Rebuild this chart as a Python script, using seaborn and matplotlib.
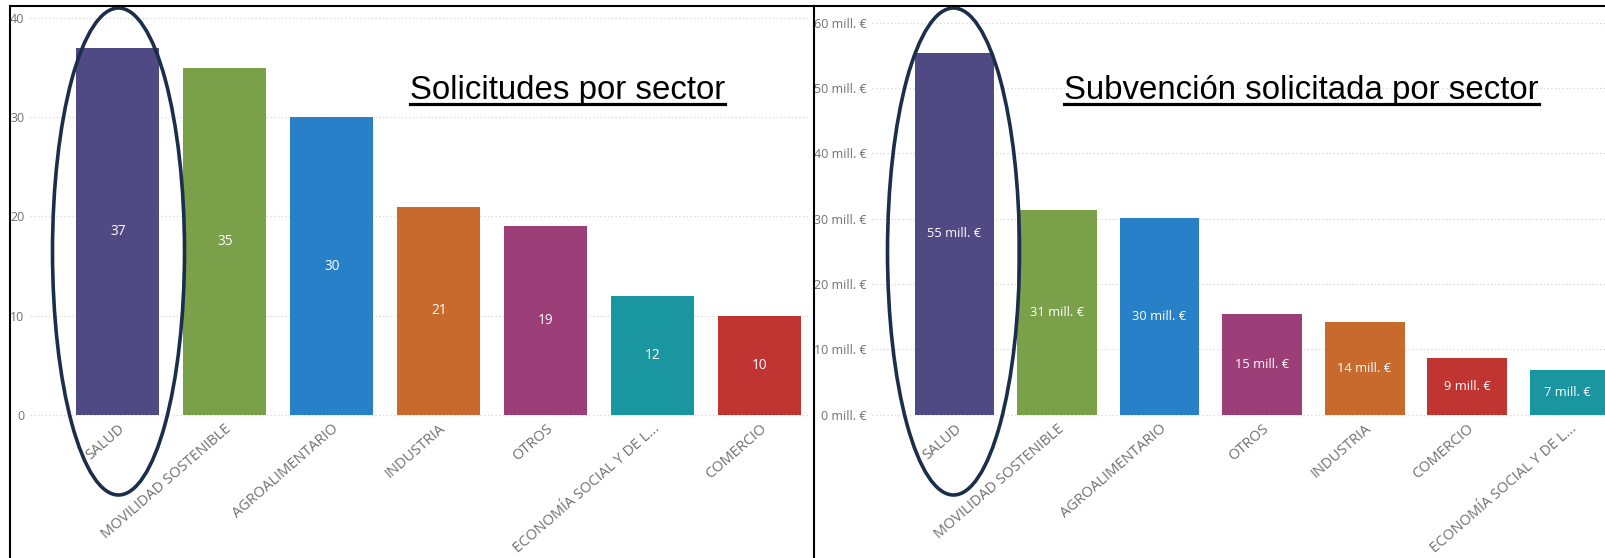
import matplotlib
matplotlib.use('Agg')
import matplotlib.pyplot as plt
import seaborn as sns
import pandas as pd
from matplotlib.patches import Ellipse
from matplotlib.lines import Line2D

# data
sectores_sol = ['SALUD', 'MOVILIDAD SOSTENIBLE', 'AGROALIMENTARIO', 'INDUSTRIA', 'OTROS',
                'ECONOMÍA SOCIAL Y DE L...', 'COMERCIO']
solicitudes = [37, 35, 30, 21, 19, 12, 10]

sectores_sub = ['SALUD', 'MOVILIDAD SOSTENIBLE', 'AGROALIMENTARIO', 'OTROS', 'INDUSTRIA',
                'COMERCIO', 'ECONOMÍA SOCIAL Y DE L...']
subvencion = [55.3, 31.3, 30.1, 15.4, 14.1, 8.7, 6.9]  # millones de euros

yticks_sol = [0, 10, 20, 30, 40]
yticks_sub = [0, 10, 20, 30, 40, 50, 60]

colores = {
    'SALUD': '#504a84',
    'MOVILIDAD SOSTENIBLE': '#7aa14a',
    'AGROALIMENTARIO': '#2881c8',
    'INDUSTRIA': '#c8692e',
    'OTROS': '#9c3e78',
    'ECONOMÍA SOCIAL Y DE L...': '#1a96a0',
    'COMERCIO': '#c03432',
}

W, H = 1605, 558
plt.rcParams['font.family'] = ['Open Sans', 'DejaVu Sans']
fig = plt.figure(figsize=(W / 100, H / 100), dpi=100)


def px_axes(x0, x1, ytop, ybot):
    return fig.add_axes([x0 / W, 1 - ybot / H, (x1 - x0) / W, (ybot - ytop) / H])


def style(ax, ticks, fmt, xlim, ylim):
    ax.set_xlim(*xlim)
    ax.set_ylim(*ylim)
    ax.set_yticks(ticks)
    ax.set_yticklabels([fmt(t) for t in ticks])
    ax.set_xlabel('')
    ax.set_ylabel('')
    for s in ax.spines.values():
        s.set_visible(False)
    ax.yaxis.grid(True, color='#d6d6d6', linestyle=(0, (1, 2)), lw=0.9)
    ax.set_axisbelow(True)
    ax.tick_params(axis='both', length=0, colors='#707070', labelsize=9)
    ax.tick_params(axis='y', pad=4)
    ax.tick_params(axis='x', pad=-2, labelsize=10.5)
    for lbl in ax.get_xticklabels():
        lbl.set_rotation(41)
        lbl.set_ha('right')
        lbl.set_rotation_mode('anchor')


# left: solicitudes
df1 = pd.DataFrame({'sector': sectores_sol, 'n': solicitudes})
ax1 = px_axes(30, 810, 8, 424)
sns.barplot(data=df1, x='sector', y='n', hue='sector', palette=colores,
            width=0.78, legend=False, ax=ax1, saturation=1)
style(ax1, yticks_sol, lambda t: f'{t}', (-0.82, 6.47), (-0.95, 41.05))
for c in ax1.containers:
    ax1.bar_label(c, labels=[f'{v:.0f}' for v in c.datavalues], label_type='center',
                  color='white', fontsize=9.8)

# right: subvencion
df2 = pd.DataFrame({'sector': sectores_sub, 'm': subvencion})
ax2 = px_axes(872, 1605, 8, 424)
sns.barplot(data=df2, x='sector', y='m', hue='sector', palette=colores,
            width=0.78, legend=False, ax=ax2, saturation=1)
style(ax2, yticks_sub, lambda t: f'{t} mill. €', (-0.805, 6.346), (-1.44, 62.22))
for c in ax2.containers:
    ax2.bar_label(c, labels=[f'{v:.0f} mill. €' for v in c.datavalues], label_type='center',
                  color='white', fontsize=9.3)

# titles with underline
for x0, txt in [(410, 'Solicitudes por sector'), (1064, 'Subvención solicitada por sector')]:
    t = fig.text(x0 / W, 1 - 99 / H, txt, fontsize=23.8, family='Liberation Sans',
                 ha='left', va='baseline', color='black')
    fig.canvas.draw()
    bb = t.get_window_extent()
    fig.add_artist(Line2D([bb.x0 / W, bb.x1 / W], [1 - 104 / H] * 2,
                          transform=fig.transFigure, color='black', lw=2.3))

# highlight ellipses around SALUD
for cx in [118.5, 953.5]:
    fig.add_artist(Ellipse((cx / W, 1 - 251.5 / H), 132 / W, 487 / H,
                           transform=fig.transFigure, fill=False,
                           edgecolor='#1b2f4b', lw=2.6))

# frame lines
fig.add_artist(Line2D([10 / W, 1], [1 - 6 / H] * 2, transform=fig.transFigure, color='black', lw=1.5))
fig.add_artist(Line2D([10 / W] * 2, [0, 1 - 6 / H], transform=fig.transFigure, color='black', lw=1.5))
fig.add_artist(Line2D([814 / W] * 2, [0, 1 - 6 / H], transform=fig.transFigure, color='black', lw=1.5))

fig.savefig('out.png', dpi=100)
